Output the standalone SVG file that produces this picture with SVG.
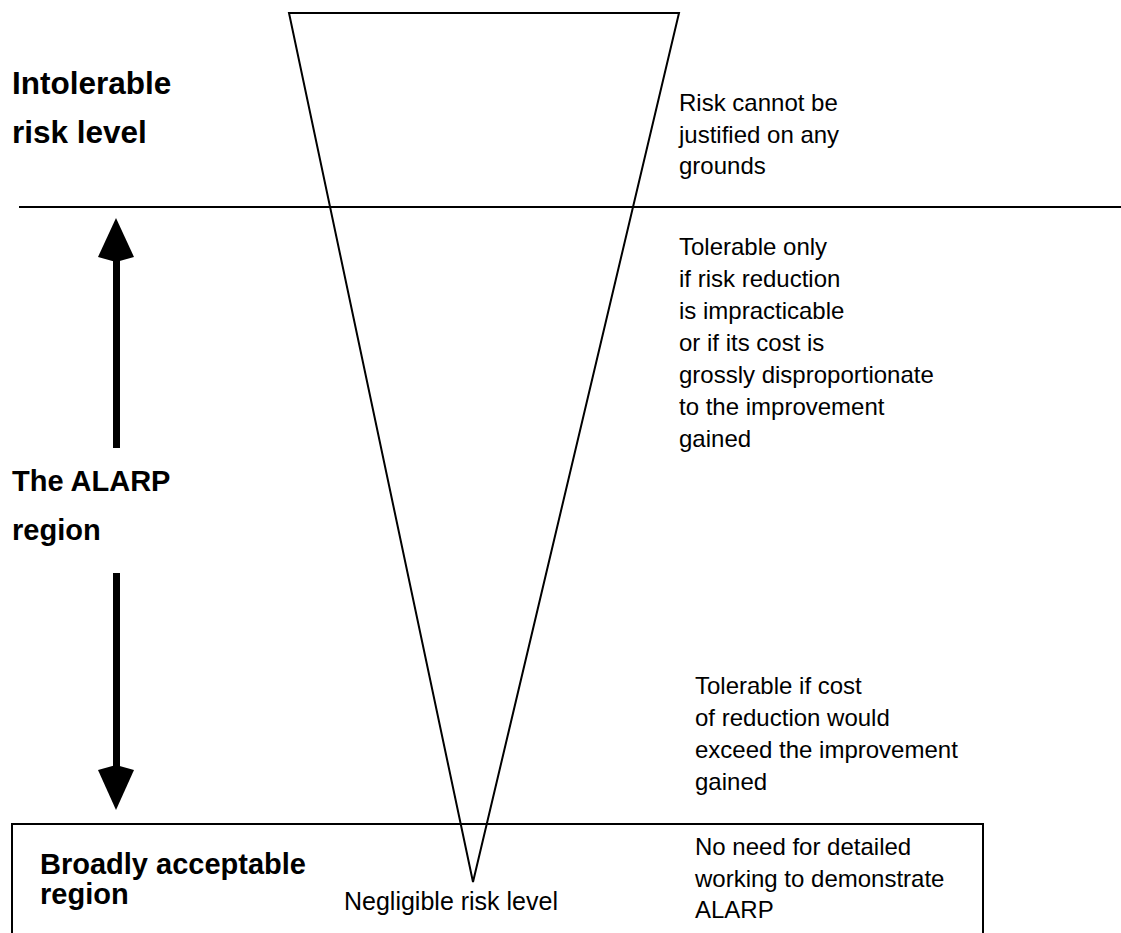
<svg xmlns="http://www.w3.org/2000/svg" width="1121" height="933" viewBox="0 0 1121 933">
<style>
.ln{stroke:#000;stroke-width:2;fill:none}
.b{font-family:"Liberation Sans",Arial,sans-serif;font-weight:bold;font-size:29px;fill:#000}
.r{font-family:"Liberation Sans",Arial,sans-serif;font-size:24px;fill:#000}
.ar{fill:#000}
</style>
<rect width="1121" height="933" fill="#fff"/>
<g id="broadly-box"><polyline class="ln" points="12,940 12,824 983,824 983,940"/></g>
<g id="divider"><line class="ln" x1="19" y1="207" x2="1121" y2="207"/></g>
<g id="triangle"><polygon class="ln" points="289,13 679,13 473,882" stroke-linejoin="miter"/></g>
<g id="connectors">
<rect class="ar" x="113" y="258" width="7" height="190"/>
<polygon class="ar" points="116,218 134,257 116,262 98,257"/>
<rect class="ar" x="113" y="573" width="7" height="194"/>
<polygon class="ar" points="116,810 134,770 116,765 98,770"/>
</g>
<g id="intolerable-label"><text class="b" x="12" y="94" style="font-size:31.5px">Intolerable</text><text class="b" x="12" y="143" style="font-size:31.5px">risk level</text></g>
<g id="alarp-label"><text class="b" x="12" y="491">The ALARP</text><text class="b" x="12" y="540">region</text></g>
<g id="broadly-label"><text class="b" x="40" y="874">Broadly acceptable</text><text class="b" x="40" y="904">region</text></g>
<g id="negligible-label"><text class="r" x="344" y="910" style="font-size:25px">Negligible risk level</text></g>
<g id="intolerable-note"><text class="r" x="679" y="111">Risk cannot be</text><text class="r" x="679" y="143">justified on any</text><text class="r" x="679" y="174">grounds</text></g>
<g id="alarp-note">
<text class="r" x="679" y="255">Tolerable only</text>
<text class="r" x="679" y="287">if risk reduction</text>
<text class="r" x="679" y="319">is impracticable</text>
<text class="r" x="679" y="351">or if its cost is</text>
<text class="r" x="679" y="383">grossly disproportionate</text>
<text class="r" x="679" y="415">to the improvement</text>
<text class="r" x="679" y="447">gained</text>
</g>
<g id="lower-note">
<text class="r" x="695" y="694">Tolerable if cost</text>
<text class="r" x="695" y="726">of reduction would</text>
<text class="r" x="695" y="758">exceed the improvement</text>
<text class="r" x="695" y="790">gained</text>
</g>
<g id="broadly-note">
<text class="r" x="695" y="855">No need for detailed</text>
<text class="r" x="695" y="887">working to demonstrate</text>
<text class="r" x="695" y="918">ALARP</text>
</g>
</svg>
